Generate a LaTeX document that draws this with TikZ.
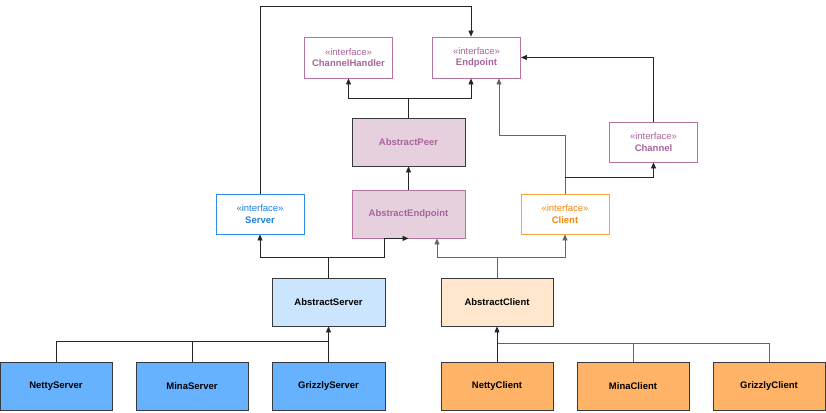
\documentclass[tikz,border=0pt]{standalone}
\usepackage{fontspec}
\setmainfont{Liberation Sans}
\usepackage{tikz}
\usetikzlibrary{arrows.meta,calc,positioning}
\usepackage{xcolor}

\definecolor{pinkline}{HTML}{B5739D}
\definecolor{pinktext}{HTML}{A8649A}
\definecolor{pinkfill}{HTML}{E6D0DE}
\definecolor{blueline}{HTML}{2E8BEA}
\definecolor{bluetext}{HTML}{1A7FE8}
\definecolor{orangeline}{HTML}{F5A63A}
\definecolor{orangetext}{HTML}{F28A10}
\definecolor{darkline}{HTML}{36393D}
\definecolor{lightblue}{HTML}{CCE5FF}
\definecolor{midblue}{HTML}{66B2FF}
\definecolor{lightorange}{HTML}{FFE6CC}
\definecolor{midorange}{HTML}{FFB366}

\begin{document}
\begin{tikzpicture}[x=1pt, y=-1pt,
  every node/.style={font=\fontsize{9.5}{11.5}\selectfont, align=center, inner sep=0pt},
  cls/.style={draw=darkline, line width=0.8pt, minimum width=112pt, minimum height=48pt, font=\fontsize{9.5}{11.5}\selectfont\bfseries},
  iface/.style={draw=#1, fill=white, line width=0.8pt, minimum width=88pt, minimum height=40pt},
  arr/.style={-{Triangle[length=6pt,width=5pt]}, line width=0.8pt, draw=black!85},
  link/.style={line width=0.8pt, draw=black!85}]

  \useasboundingbox (0,0) rectangle (826,412);

  % Interfaces
  \node[iface=pinkline, text=pinktext, minimum height=41pt] (ChannelHandler) at (348.5,57.5)
    {«interface»\\\textbf{ChannelHandler}};
  \node[iface=pinkline, text=pinktext, minimum height=41pt] (Endpoint) at (476.5,57.5)
    {«interface»\\\textbf{Endpoint}};
  \node[iface=pinkline, text=pinktext] (Channel) at (653.5,142)
    {«interface»\\\textbf{Channel}};
  \node[iface=blueline, text=bluetext] (Server) at (260,214)
    {«interface»\\\textbf{Server}};
  \node[iface=orangeline, text=orangetext] (Client) at (565,214)
    {«interface»\\\textbf{Client}};

  % Abstract classes
  \node[cls, fill=pinkfill, text=pinktext, minimum width=113pt] (AbstractPeer) at (408.5,142) {AbstractPeer};
  \node[cls, fill=pinkfill, draw=pinkline, text=pinktext, minimum width=113pt] (AbstractEndpoint) at (408.5,214) {AbstractEndpoint};
  \node[cls, fill=lightblue, minimum width=113pt] (AbstractServer) at (328.5,302) {AbstractServer};
  \node[cls, fill=lightorange] (AbstractClient) at (497,302) {AbstractClient};

  % Implementations
  \node[cls, fill=midblue] (NettyServer) at (56,386) {NettyServer};
  \node[cls, fill=midblue] (MinaServer) at (192,386) {MinaServer};
  \node[cls, fill=midblue, minimum width=113pt] (GrizzlyServer) at (328.5,386) {GrizzlyServer};
  \node[cls, fill=midorange] (NettyClient) at (497,386) {NettyClient};
  \node[cls, fill=midorange] (MinaClient) at (633,386) {MinaClient};
  \node[cls, fill=midorange] (GrizzlyClient) at (769,386) {GrizzlyClient};

  % Server -> Endpoint (over the top)
  \draw[arr] (Server.north) -- ++(0,-187) -| ([xshift=-5.5pt]Endpoint.north);

  % AbstractPeer -> ChannelHandler, Endpoint
  \draw[link] (AbstractPeer.north) -- ++(0,-19) coordinate (peerJ);
  \draw[arr] (peerJ) -| (ChannelHandler.south);
  \draw[arr] (peerJ) -| ([xshift=-5.5pt]Endpoint.south);
  \draw[arr] (AbstractEndpoint) -- (AbstractPeer);

  % Channel -> Endpoint, Client -> Endpoint, Channel
  \draw[arr] (Channel.north) |- (Endpoint.east);
  \draw[arr, draw=black!60] (Client.north) -- ++(0,-58) -| ([xshift=22.5pt]Endpoint.south);
  \draw[arr] ($(Client.north)+(0,-16)$) -| (Channel.south);

  % AbstractServer -> Server, AbstractEndpoint
  \draw[link] (AbstractServer.north) -- ++(0,-20) coordinate (srvJ);
  \draw[arr] (srvJ) -| (Server.south);
  \draw[arr] (srvJ) -| ([xshift=-24.5pt]AbstractEndpoint.south) -- (AbstractEndpoint.south);

  % AbstractClient -> AbstractEndpoint, Client
  \draw[link, draw=black!60] (AbstractClient.north) -- ++(0,-20) coordinate (cliJ);
  \draw[arr, draw=black!60] (cliJ) -| ([xshift=28.5pt]AbstractEndpoint.south);
  \draw[arr, draw=black!60] (cliJ) -| (Client.south);

  % Servers -> AbstractServer
  \draw[link] (NettyServer.north) -- ++(0,-20) -| (GrizzlyServer.north);
  \draw[link] (MinaServer.north) -- ++(0,-20);
  \draw[arr] (GrizzlyServer) -- (AbstractServer);

  % Clients -> AbstractClient
  \draw[link, draw=black!60] (GrizzlyClient.north) -- ++(0,-18) -| (NettyClient.north);
  \draw[link, draw=black!60] (MinaClient.north) -- ++(0,-18);
  \draw[arr] (NettyClient) -- (AbstractClient);
\end{tikzpicture}
\end{document}
